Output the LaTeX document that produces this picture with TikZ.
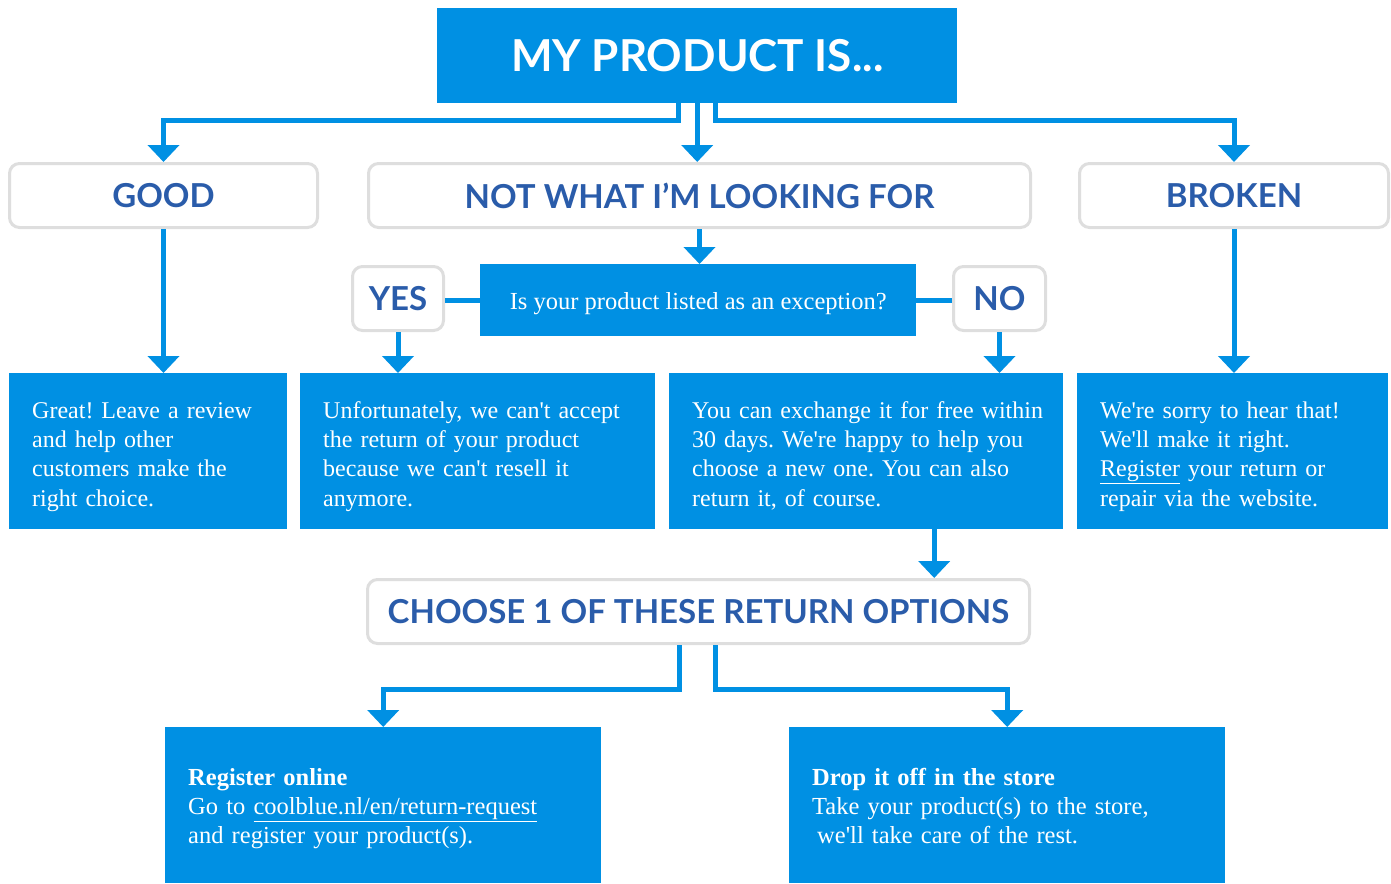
\documentclass[tikz,border=0pt]{standalone}
\usepackage{fontspec}
\setmainfont{Liberation Serif}[Ligatures=TeXOff]
\newfontfamily\headfont{Lato}
\usetikzlibrary{arrows.meta}
\definecolor{cbblue}{HTML}{0090E3}
\definecolor{cbdark}{HTML}{2A5CAA}
\definecolor{cbgray}{HTML}{DEDEDE}
\newcommand\topstrut[1]{\rule{0pt}{#1pt}}
\newcommand\botstrut[1]{\rule[-#1pt]{0pt}{#1pt}}
\begin{document}
\frenchspacing
\begin{tikzpicture}[x=1pt,y=-1pt,
  bluebox/.style={fill=cbblue, text=white, inner sep=0pt, anchor=north west},
  txtbox/.style={bluebox, align=left, inner xsep=23pt, font=\fontsize{24}{29.3}\selectfont},
  headbox/.style={draw=cbgray, line width=3pt, rounded corners=10pt, fill=white, text=cbdark,
     font=\headfont\bfseries\fontsize{33}{36}\selectfont, anchor=north west, inner sep=0pt},
  conn/.style={draw=cbblue, line width=5pt},
  arr/.style={conn, -{Triangle[width=31pt,length=17pt]}}]
\useasboundingbox (0,0) rectangle (1391,883);

% top
\node[bluebox, minimum width=520, minimum height=95,
      font=\headfont\bfseries\fontsize{44}{46}\selectfont] (top) at (437,8) {MY PRODUCT IS...};

% row 2
\node[headbox, minimum width=308, minimum height=64] (good) at (8,162) {GOOD};
\node[headbox, minimum width=662, minimum height=64] (nw) at (367,162) {NOT WHAT I’M LOOKING FOR};
\node[headbox, minimum width=309, minimum height=64] (broken) at (1078,162) {BROKEN};

% question row
\node[bluebox, minimum width=436, minimum height=72, text height=24pt, text depth=6pt,
      font=\fontsize{24.5}{26}\selectfont] (q) at (480,264)
  {Is your product listed as an exception?};
\node[headbox, minimum width=91, minimum height=64] (yes) at (351,265) {YES};
\node[headbox, minimum width=92, minimum height=64] (no) at (952,265) {NO};

% row 3
\node[txtbox, minimum width=278, text width=232, minimum height=156] (b1) at (9,373)
  {\topstrut{30}\mbox{Great! Leave a review}\\\mbox{and help other}\\\mbox{customers make the}\\\mbox{right choice.}\botstrut{8.1}};
\node[txtbox, minimum width=355, text width=309, minimum height=156] (b2) at (300,373)
  {\topstrut{30}\mbox{Unfortunately, we can't accept}\\\mbox{the return of your product}\\\mbox{because we can't resell it}\\\mbox{anymore.}\botstrut{8.1}};
\node[txtbox, minimum width=394, text width=348, minimum height=156] (b3) at (669,373)
  {\topstrut{30}\mbox{You can exchange it for free within}\\\mbox{30 days. We're happy to help you}\\\mbox{choose a new one. You can also}\\\mbox{return it, of course.}\botstrut{8.1}};
\node[txtbox, minimum width=311, text width=265, minimum height=156] (b4) at (1077,373)
  {\topstrut{30}\mbox{We're sorry to hear that!}\\\mbox{We'll make it right.}\\\mbox{\underline{Register} your return or}\\\mbox{repair via the website.}\botstrut{8.1}};

% choose
\node[headbox, minimum width=662, minimum height=64] (choose) at (366,578) {CHOOSE 1 OF THESE RETURN OPTIONS};

% bottom
\node[txtbox, minimum width=436, text width=390, minimum height=156,
      font=\fontsize{24.5}{29}\selectfont] (reg) at (165,727)
  {\topstrut{28}\mbox{\textbf{Register online}}\\\mbox{Go to \underline{coolblue.nl/en/return-request}}\\\mbox{and register your product(s).}\botstrut{9.4}};
\node[txtbox, minimum width=436, text width=390, minimum height=156,
      font=\fontsize{24.5}{29}\selectfont] (drop) at (789,727)
  {\topstrut{28}\mbox{\textbf{Drop it off in the store}}\\\mbox{Take your product(s) to the store,}\\\mbox{\hspace*{5pt}we'll take care of the rest.}\botstrut{9.4}};

% connectors
\draw[arr] (top.south) -- (top.south |- nw.north);
\draw[arr] ([xshift=-19pt]top.south) -- ++(0,17) -| (good.north);
\draw[arr] ([xshift=18pt]top.south) -- ++(0,17) -| (broken.north);
\draw[arr] (nw.south) -- (nw.south |- q.north);
\draw[conn] (yes.east |- q.west) -- (q.west);
\draw[conn] (q.east) -- (no.west |- q.east);
\draw[arr] (good.south) -- (good.south |- b1.north);
\draw[arr] (yes.south) -- (yes.south |- b2.north);
\draw[arr] (no.south) -- (no.south |- b3.north);
\draw[arr] (broken.south) -- (broken.south |- b4.north);
\draw[arr] ([xshift=68pt]b3.south) -- ([xshift=68pt]b3.south |- choose.north);
\draw[arr] ([xshift=-19pt]choose.south) -- ++(0,44) -| (reg.north);
\draw[arr] ([xshift=17pt]choose.south) -- ++(0,44) -| (drop.north);
\end{tikzpicture}
\end{document}
